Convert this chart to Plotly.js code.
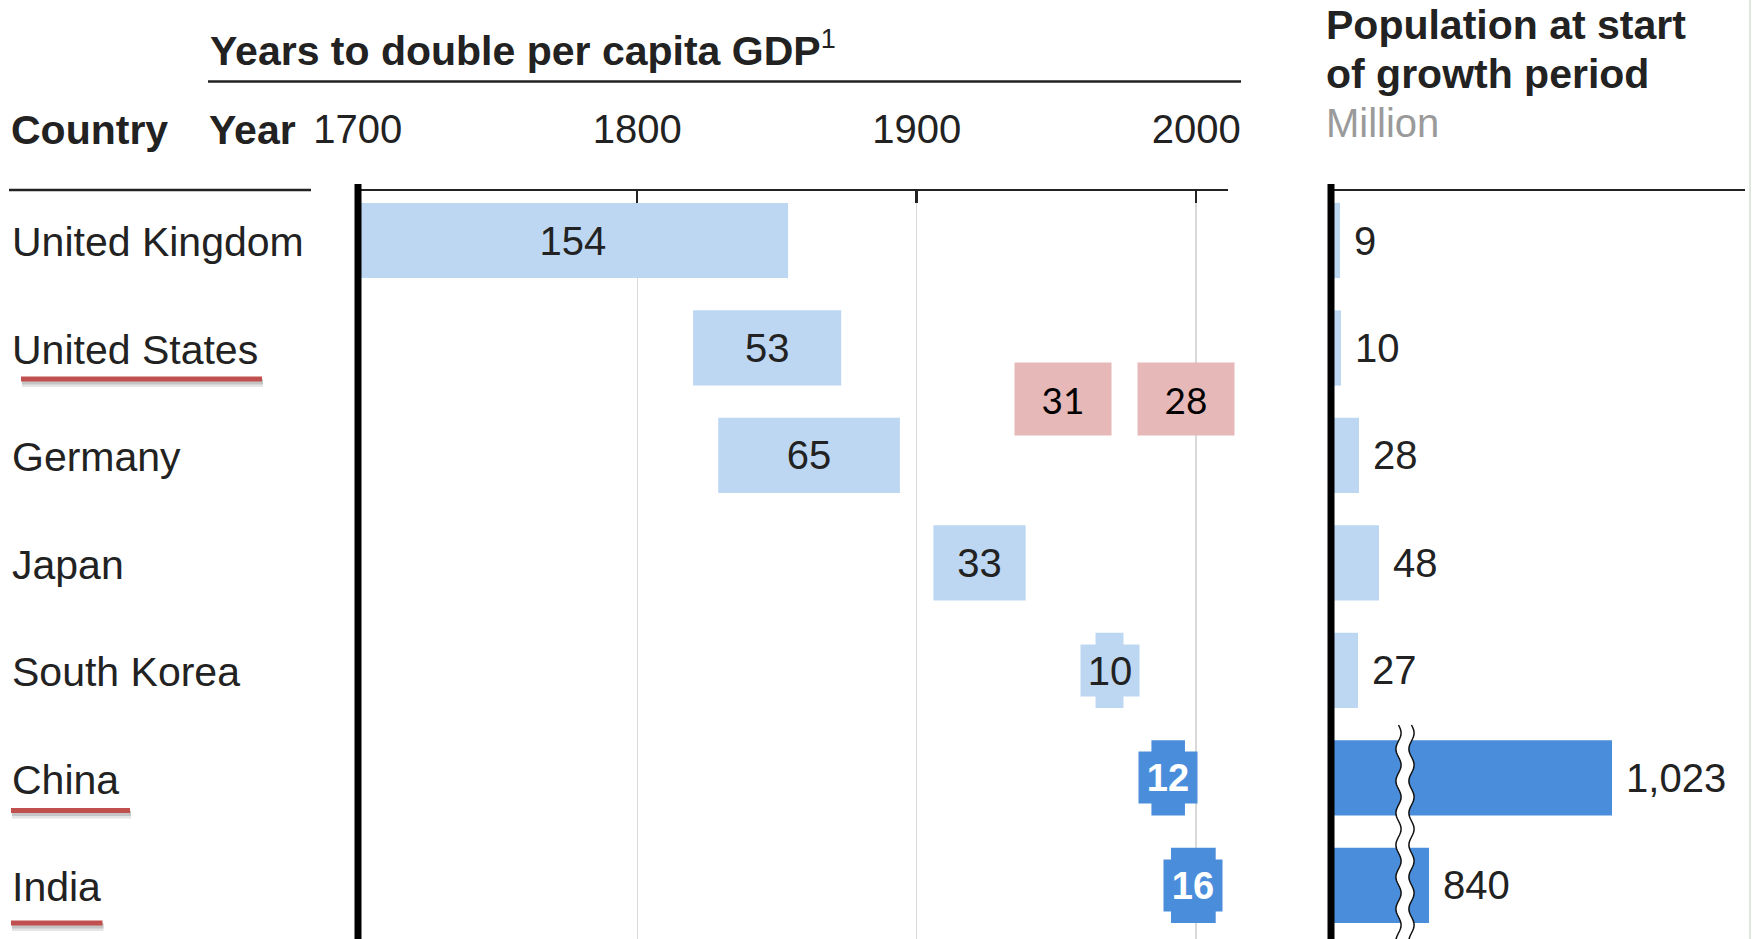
<!DOCTYPE html>
<html>
<head>
<meta charset="utf-8">
<script src="https://cdn.plot.ly/plotly-3.0.1.min.js"></script>
<style>
html,body{margin:0;padding:0;background:#ffffff;}
#chart{width:1752px;height:939px;}
</style>
</head>
<body>
<div id="chart"></div>
<script>
// ---------------- DATA ----------------
const countries = ['United Kingdom', 'United States', 'Germany', 'Japan', 'South Korea', 'China', 'India'];
const startYear = [1700, 1820, 1829, 1906, 1964, 1984, 1991];
const yearsToDouble = [154, 53, 65, 33, 10, 12, 16];
const population = [9, 10, 28, 48, 27, 1023, 840];      // million, at start of growth period
const laterPeriods = [31, 28];                           // pink call-out boxes
const yearTicks = [1700, 1800, 1900, 2000];
const underlinedCountries = ['United States', 'China', 'India'];
const highlightedCountries = ['China', 'India'];
const popBreak = { at: 74, skip: 742 };                  // broken population axis

// ---------------- GEOMETRY / STYLE ----------------
const W = 1752, H = 939;
const fx = p => p / W;
const fy = p => 1 - p / H;
const FONT = 'Liberation Sans, Arial, Helvetica, sans-serif';
const INK = '#222222';
const LIGHT = '#BDD7F3';
const DARK = '#4A8EDB';
const PINK = '#E6B8B7';
const RED = '#C0504D';

const idx = countries.map((c, i) => i);
const barColors = countries.map(c => highlightedCountries.includes(c) ? DARK : LIGHT);
const boxed = yearsToDouble.map(v => v < 20);
const yRange = [6.498, -0.4605];
const yTop = fy(191);

const growth = {
  type: 'bar', orientation: 'h',
  y: idx, x: yearsToDouble, base: startYear,
  xaxis: 'x', yaxis: 'y',
  marker: { color: barColors, line: { width: 0 } },
  text: yearsToDouble.map(String),
  textposition: boxed.map(b => b ? 'none' : 'inside'),
  insidetextanchor: 'middle', textangle: 0, constraintext: 'none',
  textfont: { family: FONT, size: 40, color: INK },
  hoverinfo: 'skip'
};

const popDisplay = population.map(v => v > popBreak.at ? v - popBreak.skip : v);
const pop = {
  type: 'bar', orientation: 'h',
  y: idx, x: popDisplay,
  xaxis: 'x2', yaxis: 'y2',
  marker: { color: barColors, line: { width: 0 } },
  text: population.map(v => '\u00a0' + v.toLocaleString('en-US')),
  textposition: 'outside', textangle: 0, constraintext: 'none', cliponaxis: false,
  textfont: { family: FONT, size: 40, color: INK },
  hoverinfo: 'skip'
};

// ---------------- ANNOTATIONS ----------------
const ann = [];
function paperText(text, px, py, opts) {
  ann.push(Object.assign({
    xref: 'paper', yref: 'paper', x: fx(px), y: fy(py),
    xanchor: 'left', yanchor: 'middle', showarrow: false, text: text,
    font: { family: FONT, size: 41, color: INK }
  }, opts || {}));
}
paperText('<b>Years to double per capita GDP</b><sup><span style="font-size:27px">1</span></sup>', 208, 49);
paperText('<b>Country</b>', 9, 130);
paperText('<b>Year</b>', 207, 130);
paperText('<b>Population at start</b>', 1324, 25);
paperText('<b>of growth period</b>', 1324, 74);
paperText('Million', 1324, 123, { font: { family: FONT, size: 40, color: '#9a9a9a' } });

countries.forEach((c, i) => {
  ann.push({
    xref: 'paper', yref: 'y', x: fx(10), y: i, yshift: -2,
    xanchor: 'left', yanchor: 'middle', showarrow: false, text: c,
    font: { family: FONT, size: 41, color: INK }
  });
});

// labels that do not fit inside the narrow bars: boxed in bar colour
countries.forEach((c, i) => {
  if (!boxed[i]) return;
  const dark = highlightedCountries.includes(c);
  ann.push({
    xref: 'x', yref: 'y', x: startYear[i] + yearsToDouble[i] / 2, y: i,
    xanchor: 'center', yanchor: 'middle', showarrow: false,
    text: dark ? '<b>' + yearsToDouble[i] + '</b>' : String(yearsToDouble[i]),
    bgcolor: barColors[i], width: 58, height: 51, borderpad: 0,
    font: { family: FONT, size: dark ? 38 : 40, color: dark ? '#ffffff' : INK }
  });
});

// pink call-outs between United States and Germany
const pinkX = [1952.3, 1996.4];
laterPeriods.forEach((v, k) => {
  ann.push({
    xref: 'x', yref: 'y', x: pinkX[k], y: 1.474,
    xanchor: 'center', yanchor: 'middle', showarrow: false,
    text: String(v), bgcolor: PINK, width: 96, height: 72, borderpad: 0,
    font: { family: 'Lato, Carlito, sans-serif', size: 37, color: '#000000' }
  });
});

// ---------------- SHAPES ----------------
const shapes = [];
function pline(x0, y0, x1, y1, color, width) {
  shapes.push({ type: 'line', xref: 'paper', yref: 'paper', x0: fx(x0), x1: fx(x1), y0: fy(y0), y1: fy(y1),
    line: { color: color, width: width } });
}
pline(208, 81.5, 1241, 81.5, INK, 2.5);   // title rule
pline(9, 190, 311, 190, INK, 2.5);        // country rule
pline(1750, 0, 1750, 939, '#dfe8df', 2);  // faint frame edge

// red underlines with soft shadow
const ulines = { 'United States': [21, 262, 379], 'China': [11, 130, 810.5], 'India': [11, 102.5, 923] };
underlinedCountries.forEach(c => {
  const u = ulines[c];
  pline(u[0] + 1, u[2] + 4, u[1] + 1, u[2] + 4, 'rgba(0,0,0,0.10)', 8);
  pline(u[0] + 1, u[2] + 3, u[1] + 1, u[2] + 3, 'rgba(0,0,0,0.14)', 5);
  pline(u[0], u[2], u[1], u[2], RED, 5);
});

// thick base lines (at 1700 on the year axis and at zero on the population axis)
pline(358, 184, 358, 945, '#000000', 7);
pline(1331, 184, 1331, 945, '#000000', 7);

// axis-break marker on population bars
(function () {
  const top = 725, bot = 945, amp = 2.6, period = 32, half = 6.5;
  const left = [], right = [];
  for (let p = top; p <= bot; p += 2) {
    const dx = amp * Math.sin(2 * Math.PI * (p - top) / period);
    left.push([popBreak.at - half + dx, fy(p)]);
    right.push([popBreak.at + half + dx, fy(p)]);
  }
  const toPath = pts => pts.map((q, k) => (k ? 'L' : 'M') + q[0].toFixed(2) + ',' + q[1].toFixed(5)).join(' ');
  const band = toPath(left) + ' ' + right.slice().reverse().map(q => 'L' + q[0].toFixed(2) + ',' + q[1].toFixed(5)).join(' ') + ' Z';
  shapes.push({ type: 'path', xref: 'x2', yref: 'paper', path: band, fillcolor: '#ffffff', line: { width: 0 } });
  shapes.push({ type: 'path', xref: 'x2', yref: 'paper', path: toPath(left), line: { color: '#111', width: 1.5 } });
  shapes.push({ type: 'path', xref: 'x2', yref: 'paper', path: toPath(right), line: { color: '#111', width: 1.5 } });
})();

// ---------------- LAYOUT ----------------
const layout = {
  width: W, height: H,
  margin: { l: 0, r: 0, t: 0, b: 0, pad: 0 },
  paper_bgcolor: '#ffffff', plot_bgcolor: 'rgba(0,0,0,0)',
  showlegend: false, bargap: 0.3,
  font: { family: FONT, size: 40, color: INK },
  xaxis: {
    domain: [fx(357.7), fx(1228)], range: [1700, 2011.4], side: 'top', anchor: 'y',
    showline: true, linecolor: INK, linewidth: 2.5,
    ticks: 'inside', ticklen: 12, tickwidth: 2.5, tickcolor: INK,
    tickvals: yearTicks, ticktext: yearTicks.map(String),
    tickfont: { family: FONT, size: 40, color: INK }, ticklabelstandoff: 30,
    showgrid: true, gridcolor: '#d9d9d9', gridwidth: 1.3, zeroline: false, fixedrange: true
  },
  yaxis: {
    domain: [0, yTop], range: yRange, anchor: 'x',
    showticklabels: false, showgrid: false, zeroline: false, showline: false, ticks: '', fixedrange: true
  },
  xaxis2: {
    domain: [fx(1331), fx(1745)], range: [0, 414], side: 'top', anchor: 'y2',
    showline: true, linecolor: INK, linewidth: 2.5, ticks: '', showticklabels: false,
    showgrid: false, zeroline: false, fixedrange: true
  },
  yaxis2: {
    domain: [0, yTop], range: yRange, anchor: 'x2',
    showticklabels: false, showgrid: false, zeroline: false, showline: false, ticks: '', fixedrange: true
  },
  annotations: ann,
  shapes: shapes
};

Plotly.newPlot('chart', [growth, pop], layout, { displayModeBar: false, staticPlot: true });
</script>
</body>
</html>
